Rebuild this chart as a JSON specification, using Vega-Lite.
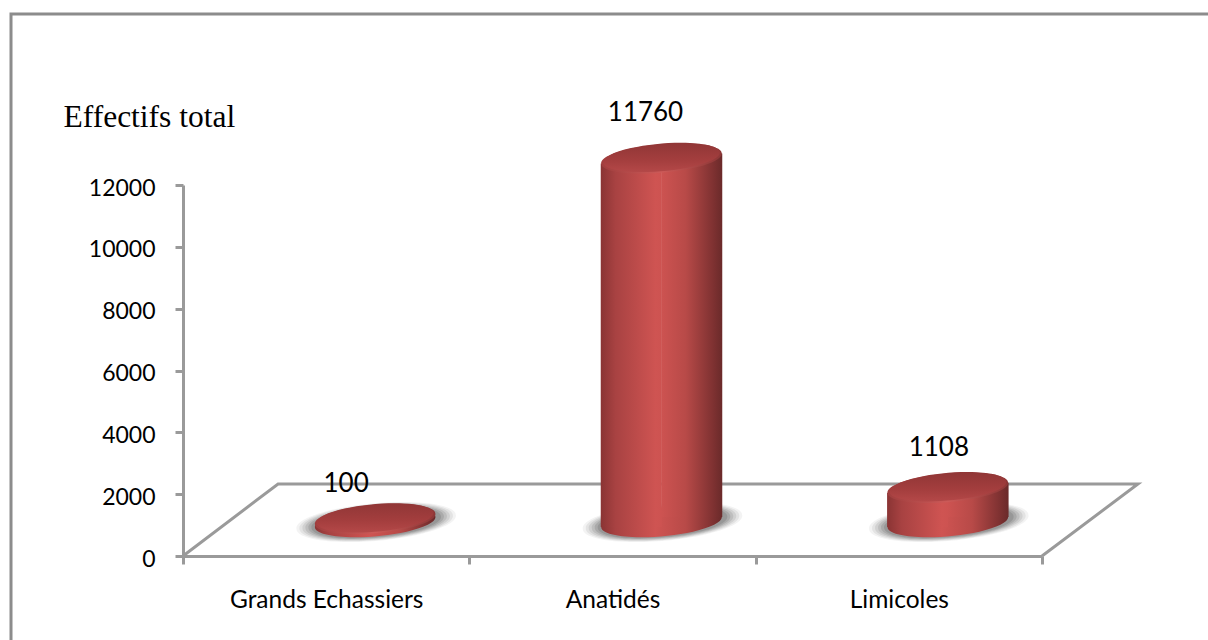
{
  "$schema": "https://vega.github.io/schema/vega-lite/v6.json",
  "width": 1199,
  "height": 628,
  "autosize": {"type": "none"},
  "padding": {"left": 11, "top": 14, "right": 0, "bottom": 0},
  "background": "white",
  "view": {"stroke": "#8c8c8c", "strokeWidth": 3, "fill": "white"},
  "datasets": {
    "effectifs": [
      {"groupe": "Grands Echassiers", "effectif": 100},
      {"groupe": "Anatidés", "effectif": 11760},
      {"groupe": "Limicoles", "effectif": 1108}
    ],
    "plancher": [
      {"ordre": 1, "u": 0, "v": 0},
      {"ordre": 2, "u": 0.332, "v": 2329},
      {"ordre": 3, "u": 3.335, "v": 2329},
      {"ordre": 4, "u": 3, "v": 0}
    ]
  },
  "resolve": {"scale": {"x": "independent"}, "axis": {"x": "independent", "y": "independent"}},
  "layer": [
    {
      "description": "Perspective floor of the 3D plot, which also carries the count axis",
      "data": {"name": "plancher"},
      "mark": {"type": "line", "stroke": "#9a9a9a", "strokeWidth": 3, "clip": false},
      "encoding": {
        "x": {"field": "u", "type": "quantitative", "axis": null, "scale": {"domain": [0, 3], "range": [172, 1031], "nice": false, "zero": false}},
        "y": {
          "field": "v",
          "type": "quantitative",
          "scale": {"domain": [0, 12000], "range": [542, 171], "nice": false},
          "axis": {
            "title": "Effectifs total",
            "titleAngle": 0,
            "titleAlign": "left",
            "titleBaseline": "alphabetic",
            "titleX": -120,
            "titleY": 112,
            "titleFont": "Liberation Serif",
            "titleFontSize": 31.5,
            "titleFontWeight": "normal",
            "titleColor": "#000000",
            "orient": "left",
            "offset": -172,
            "values": [0, 2000, 4000, 6000, 8000, 10000, 12000],
            "grid": false,
            "domainColor": "#9a9a9a",
            "domainWidth": 3,
            "tickColor": "#9a9a9a",
            "tickWidth": 3,
            "tickSize": 8,
            "labelPadding": 20,
            "labelOffset": 3,
            "labelFont": "Lato",
            "labelFontSize": 23,
            "labelColor": "#000000",
            "format": "d"
          }
        },
        "order": {"field": "ordre", "type": "ordinal"}
      }
    },
    {
      "data": {"name": "effectifs"},
      "encoding": {
        "x": {
          "field": "groupe",
          "type": "nominal",
          "sort": null,
          "scale": {"range": [172, 1031], "paddingInner": 0, "paddingOuter": 0},
          "axis": {
            "title": null,
            "orient": "bottom",
            "offset": -86,
            "labelAngle": 0,
            "labelLimit": 400,
            "tickBand": "extent",
            "domainColor": "#9a9a9a",
            "domainWidth": 3,
            "tickColor": "#9a9a9a",
            "tickWidth": 3,
            "tickSize": 8,
            "labelPadding": 24,
            "labelFont": "Lato",
            "labelFontSize": 24.5,
            "labelColor": "#000000",
            "labelBaseline": "top"
          }
        },
        "y": {
          "field": "effectif",
          "type": "quantitative",
          "scale": {"domain": [0, 12000], "range": [542, 171], "nice": false},
          "axis": null
        }
      },
      "layer": [
        {
          "description": "Soft ground shadow built from stacked ellipses",
          "mark": {"type": "point", "filled": true, "shape": "M-0.996,0.087 A1,0.231 -5 1 1 0.996,-0.087 A1,0.231 -5 1 1 -0.996,0.087 Z", "size": 25600, "color": "#555555", "opacity": 0.07, "xOffset": 50, "yOffset": -34},
          "encoding": {"y": {"datum": 0, "axis": null}}
        },
        {
          "mark": {"type": "point", "filled": true, "shape": "M-0.996,0.087 A1,0.231 -5 1 1 0.996,-0.087 A1,0.231 -5 1 1 -0.996,0.087 Z", "size": 23716, "color": "#555555", "opacity": 0.1, "xOffset": 50, "yOffset": -34},
          "encoding": {"y": {"datum": 0, "axis": null}}
        },
        {
          "mark": {"type": "point", "filled": true, "shape": "M-0.996,0.087 A1,0.231 -5 1 1 0.996,-0.087 A1,0.231 -5 1 1 -0.996,0.087 Z", "size": 21904, "color": "#555555", "opacity": 0.12, "xOffset": 50, "yOffset": -34},
          "encoding": {"y": {"datum": 0, "axis": null}}
        },
        {
          "mark": {"type": "point", "filled": true, "shape": "M-0.996,0.087 A1,0.231 -5 1 1 0.996,-0.087 A1,0.231 -5 1 1 -0.996,0.087 Z", "size": 20164, "color": "#555555", "opacity": 0.15, "xOffset": 50, "yOffset": -34},
          "encoding": {"y": {"datum": 0, "axis": null}}
        },
        {
          "mark": {"type": "point", "filled": true, "shape": "M-0.996,0.087 A1,0.231 -5 1 1 0.996,-0.087 A1,0.231 -5 1 1 -0.996,0.087 Z", "size": 18496, "color": "#555555", "opacity": 0.18, "xOffset": 50, "yOffset": -34},
          "encoding": {"y": {"datum": 0, "axis": null}}
        },
        {
          "mark": {"type": "point", "filled": true, "shape": "M-0.996,0.087 A1,0.231 -5 1 1 0.996,-0.087 A1,0.231 -5 1 1 -0.996,0.087 Z", "size": 16900, "color": "#555555", "opacity": 0.22, "xOffset": 50, "yOffset": -34},
          "encoding": {"y": {"datum": 0, "axis": null}}
        },
        {
          "description": "Cylinder base",
          "mark": {
            "type": "point", "filled": true, "opacity": 1,
            "shape": "M-0.996,0.087 A1,0.231 -5 1 1 0.996,-0.087 A1,0.231 -5 1 1 -0.996,0.087 Z",
            "size": 14641, "xOffset": 49, "yOffset": -34,
            "color": {"gradient": "linear", "x1": 0, "x2": 1, "y1": 0, "y2": 0, "stops": [
              {"offset": 0, "color": "#8a3434"}, {"offset": 0.12, "color": "#a84242"}, {"offset": 0.45, "color": "#cf5452"},
              {"offset": 0.7, "color": "#b84a48"}, {"offset": 0.92, "color": "#803232"}, {"offset": 1, "color": "#6a2a2a"}]}
          },
          "encoding": {"y": {"datum": 0, "axis": null}}
        },
        {
          "description": "Left half of the cylinder body, dropped to follow the tilt of the ellipses",
          "transform": [{"filter": "datum.effectif > 1000"}],
          "mark": {
            "type": "bar", "width": 61, "xOffset": 18.75, "yOffset": -29, "y2Offset": -29,
            "color": {"gradient": "linear", "x1": 0, "x2": 1, "y1": 0, "y2": 0, "stops": [
              {"offset": 0, "color": "#8a3434"}, {"offset": 0.24, "color": "#a84242"}, {"offset": 0.9, "color": "#cf5452"}, {"offset": 1, "color": "#cd5351"}]}
          }
        },
        {
          "description": "Right half of the cylinder body, raised to follow the tilt of the ellipses",
          "transform": [{"filter": "datum.effectif > 1000"}],
          "mark": {
            "type": "bar", "width": 61, "xOffset": 79.25, "yOffset": -39, "y2Offset": -39,
            "color": {"gradient": "linear", "x1": 0, "x2": 1, "y1": 0, "y2": 0, "stops": [
              {"offset": 0, "color": "#cd5351"}, {"offset": 0.4, "color": "#b84a48"}, {"offset": 0.84, "color": "#803232"}, {"offset": 1, "color": "#6a2a2a"}]}
          }
        },
        {
          "description": "Light rim around the top face",
          "mark": {
            "type": "point", "filled": true, "opacity": 1,
            "shape": "M-0.996,0.087 A1,0.231 -5 1 1 0.996,-0.087 A1,0.231 -5 1 1 -0.996,0.087 Z",
            "size": 14641, "xOffset": 49, "yOffset": -34,
            "color": {"gradient": "linear", "x1": 0, "x2": 1, "y1": 0, "y2": 0, "stops": [
              {"offset": 0, "color": "#a03e3e"}, {"offset": 0.5, "color": "#cc5a58"}, {"offset": 1, "color": "#8c3636"}]}
          }
        },
        {
          "description": "Top face",
          "mark": {
            "type": "point", "filled": true, "opacity": 1,
            "shape": "M-0.996,0.087 A1,0.231 -5 1 1 0.996,-0.087 A1,0.231 -5 1 1 -0.996,0.087 Z",
            "size": 13689, "xOffset": 49, "yOffset": -35,
            "color": {"gradient": "linear", "x1": 0, "x2": 0, "y1": 0, "y2": 1, "stops": [
              {"offset": 0, "color": "#903636"}, {"offset": 0.6, "color": "#a43e3e"}, {"offset": 1, "color": "#b44848"}]}
          }
        },
        {
          "description": "Value labels",
          "transform": [{"filter": "datum.groupe === 'Grands Echassiers'"}],
          "mark": {"type": "text", "font": "Lato", "fontSize": 26, "color": "#000000", "xOffset": 20, "yOffset": -69},
          "encoding": {"text": {"field": "effectif", "type": "quantitative", "format": "d"}}
        },
        {
          "transform": [{"filter": "datum.groupe === 'Anatidés'"}],
          "mark": {"type": "text", "font": "Lato", "fontSize": 26, "color": "#000000", "xOffset": 33, "yOffset": -79},
          "encoding": {"text": {"field": "effectif", "type": "quantitative", "format": "d"}}
        },
        {
          "transform": [{"filter": "datum.groupe === 'Limicoles'"}],
          "mark": {"type": "text", "font": "Lato", "fontSize": 26, "color": "#000000", "xOffset": 40, "yOffset": -74},
          "encoding": {"text": {"field": "effectif", "type": "quantitative", "format": "d"}}
        }
      ]
    }
  ]
}
